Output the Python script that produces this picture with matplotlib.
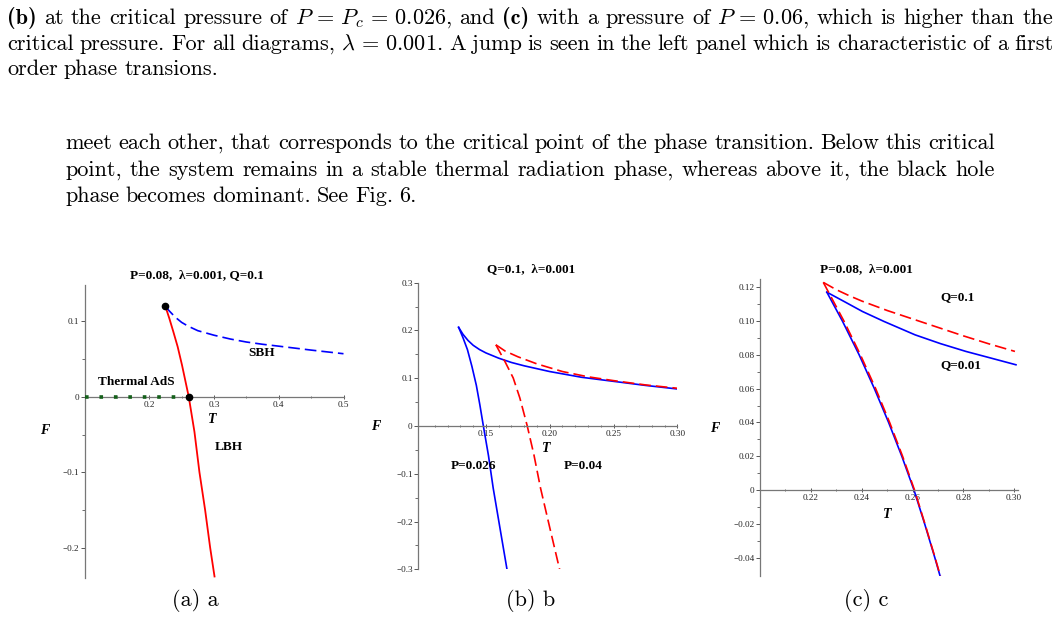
import matplotlib
matplotlib.use('Agg')
import matplotlib.pyplot as plt

plt.rcParams['mathtext.fontset'] = 'cm'
plt.rcParams['font.family'] = 'Liberation Serif'

W, H = 1060, 634
FS = 16  # body text size

# ---- text of the page ----
para1 = [
    '(b) at the critical pressure of $P\\,=\\,P_c\\,=\\,0.026$, and (c) with a pressure of $P\\,=\\,0.06$, which is higher than the',
    'critical pressure. For all diagrams, $\\lambda\\,=\\,0.001$. A jump is seen in the left panel which is characteristic of a first',
    'order phase transions.',
]
para2 = [
    'meet each other, that corresponds to the critical point of the phase transition. Below this critical',
    'point, the system remains in a stable thermal radiation phase, whereas above it, the black hole',
    'phase becomes dominant. See Fig. 6.',
]
bold_words = ['(b)', '(c)']
captions = ['(a) a', '(b) b', '(c) c']

# ---- panel (a): P=0.08, lambda=0.001, Q=0.1 ----
a_sbh_T = [0.225, 0.23, 0.235, 0.24, 0.25, 0.26, 0.275, 0.30, 0.325, 0.35, 0.375, 0.40, 0.45, 0.50]
a_sbh_F = [0.120, 0.1145, 0.110, 0.1055, 0.0985, 0.0935, 0.0875, 0.0815, 0.0765, 0.0725,
           0.0695, 0.067, 0.0618, 0.057]
a_lbh_T = [0.2248, 0.231, 0.2372, 0.2439, 0.2506, 0.261, 0.2698, 0.2775, 0.2863, 0.2941, 0.3008]
a_lbh_F = [0.120, 0.1038, 0.0861, 0.0662, 0.0419, 0.0, -0.0464, -0.0998, -0.150, -0.200, -0.238]
a_ads_T = [0.1, 0.261]
a_ads_F = [0.0, 0.0]
a_pts_T = [0.2248, 0.261]
a_pts_F = [0.120, 0.0]

# ---- panel (b): Q=0.1, lambda=0.001 ----
b_p026_up_T = [0.1286, 0.132, 0.136, 0.14, 0.145, 0.15, 0.16, 0.17, 0.18, 0.20,
               0.225, 0.25, 0.275, 0.30]
b_p026_up_F = [0.2066, 0.192, 0.179, 0.169, 0.160, 0.153, 0.142, 0.133, 0.126, 0.114,
               0.102, 0.0935, 0.085, 0.0775]
b_p026_lo_T = [0.1286, 0.132, 0.1355, 0.139, 0.1425, 0.1452, 0.148, 0.152, 0.1557, 0.161, 0.1667]
b_p026_lo_F = [0.2066, 0.185, 0.160, 0.125, 0.085, 0.045, 0.0, -0.062, -0.13, -0.2135, -0.303]
b_p04_up_T = [0.1578, 0.165, 0.175, 0.19, 0.21, 0.23, 0.25, 0.275, 0.30]
b_p04_up_F = [0.170, 0.157, 0.145, 0.130, 0.114, 0.103, 0.095, 0.086, 0.079]
b_p04_lo_T = [0.1578, 0.1649, 0.1714, 0.1766, 0.1824, 0.1876, 0.1928, 0.2001, 0.208]
b_p04_lo_F = [0.170, 0.135, 0.1005, 0.0586, 0.0, -0.060, -0.130, -0.2135, -0.303]

# ---- panel (c): P=0.08, lambda=0.001 ----
c_q01_up_T = [0.2249, 0.23, 0.235, 0.24, 0.25, 0.26, 0.27, 0.28, 0.29, 0.3003]
c_q01_up_F = [0.1228, 0.1185, 0.115, 0.1118, 0.1062, 0.1012, 0.0962, 0.0912, 0.0865, 0.082]
c_q01_lo_T = [0.2249, 0.2330, 0.2395, 0.2455, 0.2510, 0.2561, 0.2608, 0.2649, 0.2689, 0.2710]
c_q01_lo_F = [0.1228, 0.10, 0.08, 0.06, 0.04, 0.02, 0.0, -0.02, -0.04, -0.051]
c_q001_up_T = [0.2263, 0.2331, 0.2403, 0.2488, 0.261, 0.271, 0.281, 0.291, 0.3007]
c_q001_up_F = [0.117, 0.1115, 0.1056, 0.0997, 0.0918, 0.0866, 0.082, 0.078, 0.0741]
c_q001_lo_T = [0.2263, 0.2324, 0.239, 0.245, 0.2506, 0.2558, 0.2606, 0.2648, 0.2688, 0.2709]
c_q001_lo_F = [0.117, 0.10, 0.08, 0.06, 0.04, 0.02, 0.0, -0.02, -0.04, -0.051]

fig = plt.figure(figsize=(W / 100, H / 100), dpi=100)
renderer = fig.canvas.get_renderer()


def put_line(line, x0, x1, y, justify, bold=()):
    arts = []
    for w in line.split(' '):
        fam = 'cmb10' if w in bold else 'cmr10'
        arts.append(fig.text(0, 1 - y / H, w, family=fam, fontsize=FS,
                             va='baseline', ha='left'))
    widths = [a.get_window_extent(renderer).width for a in arts]
    if justify:
        gap = (x1 - x0 - sum(widths)) / (len(arts) - 1)
    else:
        gap = FS * 100 / 72 * 0.28
    x = x0
    for a, wd in zip(arts, widths):
        a.set_x(x / W)
        x += wd + gap


for i, line in enumerate(para1):
    put_line(line, 7, 1053, 24 + 25.5 * i, i < 2, bold_words)
for i, line in enumerate(para2):
    put_line(line, 65, 995, 149 + 26.5 * i, i < 2)

for cx, cap in zip([195, 531, 866], captions):
    fig.text(cx / W, 1 - 606 / H, cap, family='cmr10', fontsize=FS,
             ha='center', va='baseline')


def maple_axes(left, top, width, height, xlim, ylim):
    ax = fig.add_axes([left / W, 1 - (top + height) / H, width / W, height / H])
    ax.set_xlim(*xlim)
    ax.set_ylim(*ylim)
    ax.patch.set_alpha(0)
    for s in ['top', 'right']:
        ax.spines[s].set_visible(False)
    ax.spines['bottom'].set_position(('data', 0))
    for s in ['left', 'bottom']:
        ax.spines[s].set_color('#777777')
        ax.spines[s].set_linewidth(0.9)
    ax.tick_params(axis='y', which='major', direction='out', length=3, width=0.7,
                   color='#555555', labelsize=6.6, pad=1, labelcolor='#222222')
    ax.tick_params(axis='y', which='minor', direction='out', length=2, width=0.6,
                   color='#555555')
    ax.tick_params(axis='x', which='major', direction='inout', length=3, width=0.7,
                   color='#555555', labelsize=6.6, pad=1.5, labelcolor='#222222')
    ax.tick_params(axis='x', which='minor', direction='inout', length=2, width=0.6,
                   color='#555555')
    return ax


def lab(ax, x, y, s, size=9.5):
    ax.text(x, y, s, fontsize=size, fontweight='bold', ha='center', va='center')


def axis_names(ax, tx, ty, fx, fy):
    ax.text(tx, ty, 'T', fontsize=10, fontweight='bold', style='italic',
            ha='center', va='center')
    fig.text(fx / W, 1 - fy / H, 'F', fontsize=10, fontweight='bold',
             style='italic', ha='center', va='center')


# ---------- (a) ----------
ax = maple_axes(84.5, 285, 259, 293, (0.1, 0.5), (-0.24, 0.148))
ax.plot(a_ads_T, a_ads_F, color='#14601a', lw=2.6, ls=(0, (1, 3)), zorder=3)
ax.plot(a_sbh_T, a_sbh_F, color='blue', lw=1.2, ls=(0, (7, 3)))
ax.plot(a_lbh_T, a_lbh_F, color='red', lw=1.3)
ax.plot(a_pts_T, a_pts_F, 'o', color='black', ms=4.5, zorder=5)
ax.set_xticks([0.2, 0.3, 0.4, 0.5])
ax.set_xticklabels(['0.2', '0.3', '0.4', '0.5'])
ax.set_xticks([0.15, 0.25, 0.35, 0.45], minor=True)
ax.set_yticks([-0.2, -0.1, 0, 0.1])
ax.set_yticklabels(['\u22120.2', '\u22120.1', '0', '0.1'])
ax.set_yticks([-0.15, -0.05, 0.05], minor=True)
lab(ax, 0.18, 0.019, 'Thermal AdS')
lab(ax, 0.373, 0.058, 'SBH')
lab(ax, 0.323, -0.066, 'LBH')
axis_names(ax, 0.298, -0.030, 45, 430)
fig.text(197 / W, 1 - 275 / H, 'P=0.08,  \u03bb=0.001, Q=0.1', fontsize=9.5,
         fontweight='bold', ha='center', va='center')

# ---------- (b) ----------
ax = maple_axes(418.3, 282.7, 259, 286.6, (0.097, 0.30), (-0.3, 0.3))
ax.plot(b_p026_up_T, b_p026_up_F, color='blue', lw=1.2)
ax.plot(b_p026_lo_T, b_p026_lo_F, color='blue', lw=1.2)
ax.plot(b_p04_up_T, b_p04_up_F, color='red', lw=1.2, ls=(0, (7, 3)))
ax.plot(b_p04_lo_T, b_p04_lo_F, color='red', lw=1.2, ls=(0, (7, 3)))
ax.set_xticks([0.15, 0.20, 0.25, 0.30])
ax.set_xticklabels(['0.15', '0.20', '0.25', '0.30'])
ax.set_xticks([0.11, 0.12, 0.13, 0.14, 0.16, 0.17, 0.18, 0.19, 0.21, 0.22,
               0.23, 0.24, 0.26, 0.27, 0.28, 0.29], minor=True)
ax.set_yticks([-0.3, -0.2, -0.1, 0, 0.1, 0.2, 0.3])
ax.set_yticklabels(['\u22120.3', '\u22120.2', '\u22120.1', '0', '0.1', '0.2', '0.3'])
ax.set_yticks([-0.25, -0.15, -0.05, 0.05, 0.15, 0.25], minor=True)
lab(ax, 0.140, -0.084, 'P=0.026')
lab(ax, 0.226, -0.084, 'P=0.04')
axis_names(ax, 0.1976, -0.047, 375.7, 426.7)
fig.text(530.7 / W, 1 - 269 / H, 'Q=0.1,  \u03bb=0.001', fontsize=9.5,
         fontweight='bold', ha='center', va='center')

# ---------- (c) ----------
ax = maple_axes(760, 279, 258, 296.6, (0.2, 0.3015), (-0.0505, 0.1248))
ax.plot(c_q01_up_T, c_q01_up_F, color='red', lw=1.2, ls=(0, (7, 3)))
ax.plot(c_q001_up_T, c_q001_up_F, color='blue', lw=1.2)
ax.plot(c_q001_lo_T, c_q001_lo_F, color='blue', lw=1.2)
ax.plot(c_q01_lo_T, c_q01_lo_F, color='red', lw=1.2, ls=(0, (7, 3)))
ax.set_xticks([0.22, 0.24, 0.26, 0.28, 0.30])
ax.set_xticklabels(['0.22', '0.24', '0.26', '0.28', '0.30'])
ax.set_xticks([0.21, 0.23, 0.25, 0.27, 0.29], minor=True)
ax.set_yticks([-0.04, -0.02, 0, 0.02, 0.04, 0.06, 0.08, 0.10, 0.12])
ax.set_yticklabels(['\u22120.04', '\u22120.02', '0', '0.02', '0.04', '0.06',
                    '0.08', '0.10', '0.12'])
ax.set_yticks([-0.03, -0.01, 0.01, 0.03, 0.05, 0.07, 0.09, 0.11], minor=True)
lab(ax, 0.2777, 0.1139, 'Q=0.1')
lab(ax, 0.279, 0.0741, 'Q=0.01')
axis_names(ax, 0.2502, -0.0142, 715, 428.3)
fig.text(866.7 / W, 1 - 269 / H, 'P=0.08,  \u03bb=0.001', fontsize=9.5,
         fontweight='bold', ha='center', va='center')

fig.savefig('out.png', dpi=100, facecolor='white')
